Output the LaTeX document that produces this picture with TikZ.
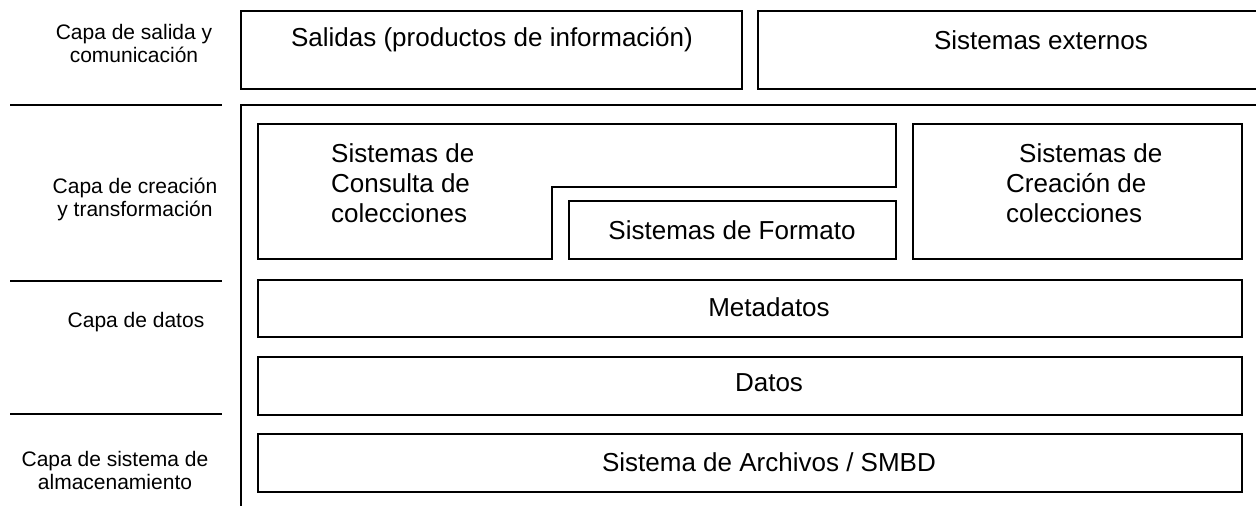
\documentclass[tikz,border=0pt]{standalone}
\usepackage{fontspec}
\setmainfont{Liberation Sans}
\begin{document}
\begin{tikzpicture}[x=1bp,y=-1bp]
\tikzset{
  box/.style={draw=black, line width=1.5bp, inner sep=0pt, outer sep=0pt, anchor=north west},
  boxtext/.style={font=\fontsize{26bp}{30bp}\selectfont, inner sep=0pt},
  layertext/.style={font=\fontsize{21bp}{23bp}\selectfont, align=center, inner sep=0pt},
  rulex/.style={draw=black, line width=1.5bp}
}
\useasboundingbox (0,0) rectangle (1256,506);
\clip (0,0) rectangle (1256,506);

% layer labels
\node[layertext] (l1) at (134,43) {Capa de salida y\\comunicación};
\node[layertext] (l2) at (135,199) {Capa de creación\\y transformación};
\node[layertext] (l3) at (136,322) {Capa de datos};
\node[layertext] (l4) at (115,470) {Capa de sistema de\\almacenamiento};

% separator lines
\coordinate (s1a) at (10,105); \coordinate (s1b) at (222,105);
\coordinate (s2a) at (10,281); \coordinate (s2b) at (222,281);
\coordinate (s3a) at (10,414); \coordinate (s3b) at (222,414);
\draw[rulex] (s1a) -- (s1b);
\draw[rulex] (s2a) -- (s2b);
\draw[rulex] (s3a) -- (s3b);

% top boxes
\node[box, minimum width=501bp, minimum height=78bp] (salidas) at (241,11) {};
\node[boxtext] (salidasT) at (492,40) {Salidas (productos de información)};
\node[box, minimum width=566bp, minimum height=78bp] (externos) at (758,11) {};
\node[boxtext] (externosT) at (1041,40) {Sistemas externos};

% frame
\coordinate (fTR) at (1270,105);
\coordinate (fTL) at (241,105);
\coordinate (fBL) at (241,515);
\draw[rulex] (fTR) -- (fTL) -- (fBL);

% L-shaped consulta box
\draw[rulex, line join=miter] (258,124) -- (896,124) -- (896,187) -- (552,187) -- (552,259) -- (258,259) -- cycle;
\node[boxtext, align=left, anchor=west] (consultaT) at (331,183) {Sistemas de\\Consulta de\\colecciones};

% formato
\node[box, minimum width=327bp, minimum height=58bp] (formato) at (569,201) {};
\node[boxtext] (formatoT) at (732,230) {Sistemas de Formato};

% creacion
\node[box, minimum width=329bp, minimum height=135bp] (creacion) at (913,124) {};
\node[boxtext, align=left, anchor=west] (creacionT) at (1006,183) {\hspace{13bp}Sistemas de\\Creación de\\colecciones};

% data layers
\node[box, minimum width=984bp, minimum height=57bp] (meta) at (258,280) {};
\node[boxtext] (metaT) at (769,307) {Metadatos};
\node[box, minimum width=984bp, minimum height=58bp] (datos) at (258,357) {};
\node[boxtext] (datosT) at (769,383) {Datos};
\node[box, minimum width=984bp, minimum height=58bp] (archivos) at (258,434) {};
\node[boxtext] (archivosT) at (769,462) {Sistema de Archivos / SMBD};
\end{tikzpicture}
\end{document}
